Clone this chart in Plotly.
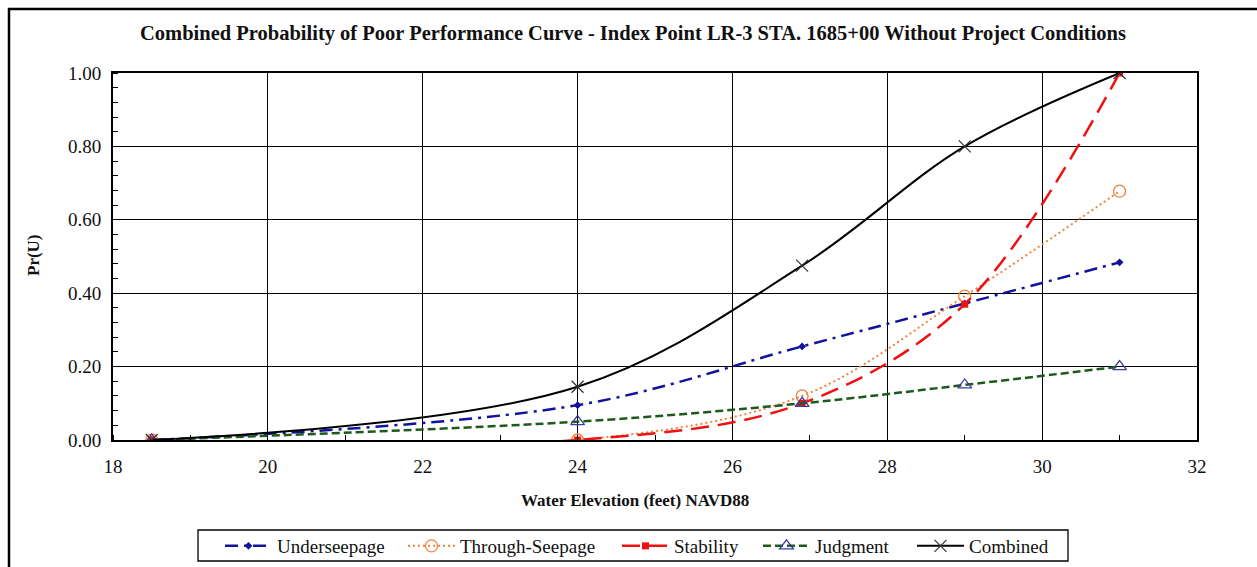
import plotly.graph_objects as go

elev = [18.5, 24.0, 26.9, 29.0, 31.0]
underseepage = [0.0, 0.095, 0.255, 0.372, 0.484]
through_seepage = [0.0, 0.0, 0.12, 0.392, 0.678]
stability = [0.0, 0.0, 0.10, 0.37, 1.0]
judgment = [0.0, 0.05, 0.10, 0.15, 0.20]
combined = [0.0, 0.145, 0.475, 0.80, 1.0]

x_ticks = [18, 20, 22, 24, 26, 28, 30, 32]
y_ticks = [0.0, 0.2, 0.4, 0.6, 0.8, 1.0]

FONT = "Liberation Serif"
PL, PR, PT, PB = 113, 1197, 73, 440
PW, PH = PR - PL, PB - PT

def px(xp):
    return (xp - PL) / PW

def py(yp):
    return (PB - yp) / PH

fig = go.Figure()

def add(name, y, color, dash, width, symbol, msize, lw, mcolor=None, mline=None):
    mcolor = mcolor or color
    fig.add_trace(go.Scatter(
        x=elev, y=y, name=name, mode="lines+markers", legendwidth=lw,
        line=dict(color=color, dash=dash, width=width, shape="spline", smoothing=1.0),
        marker=dict(symbol=symbol, size=msize, color=mcolor,
                    line=dict(color=mcolor, width=mline if mline is not None else 0)),
    ))

add("Underseepage", underseepage, "#12129C", "13px,6px,3px,6px", 2.5, "diamond", 6, 121)
add("Through-Seepage", through_seepage, "#F0843C", "2px,3px", 2, "circle-open", 12, 152, mline=1.3)
add("Stability", stability, "#F01010", "18px,9px", 2.5, "square", 7, 79)
add("Judgment", judgment, "#1E5A1E", "8px,4px", 2.5, "triangle-up-open", 12, 92,
    mcolor="#3A3AA8", mline=1.3)
add("Combined", combined, "#000000", "solid", 2, "x-thin-open", 12, 81, mcolor="#333333", mline=1.2)

fig.update_layout(
    width=1257, height=567,
    margin=dict(l=PL, r=1257 - PR, t=PT, b=567 - PB, autoexpand=False),
    paper_bgcolor="white", plot_bgcolor="white",
    font=dict(family=FONT, color="#111111", size=18),
    title=dict(text="<b>Combined Probability of Poor Performance Curve - Index Point LR-3 STA. 1685+00 Without Project Conditions</b>",
               x=633 / 1257, xanchor="center", y=1 - 33 / 567, yanchor="middle",
               font=dict(family=FONT, size=20.5, color="#111111")),
    showlegend=True,
    legend=dict(orientation="h", x=px(220), xanchor="left",
                y=py(546), yanchor="middle",
                borderwidth=0, bgcolor="rgba(0,0,0,0)",
                font=dict(family=FONT, size=19, color="#111111"),
                itemwidth=47, tracegroupgap=0),
    shapes=[
        dict(type="rect", xref="paper", yref="paper",
             x0=px(9), x1=px(1400), y0=py(700), y1=py(9),
             line=dict(color="black", width=2.5), fillcolor="rgba(0,0,0,0)", layer="below"),
        dict(type="rect", xref="paper", yref="paper",
             x0=px(198), x1=px(1068), y0=py(561), y1=py(530),
             line=dict(color="black", width=1.3), fillcolor="rgba(0,0,0,0)", layer="below"),
    ],
    annotations=[
        dict(text="<b>Water Elevation (feet) NAVD88</b>", xref="paper", yref="paper",
             x=px(635), y=py(500), xanchor="center", yanchor="middle", showarrow=False,
             font=dict(family=FONT, size=17, color="#111111")),
        dict(text="<b>Pr(U)</b>", xref="paper", yref="paper", textangle=-90,
             x=px(33), y=py(255), xanchor="center", yanchor="middle", showarrow=False,
             font=dict(family=FONT, size=17, color="#111111")),
    ],
)

fig.update_xaxes(
    range=[18, 32], tickvals=x_ticks, ticktext=[str(v) for v in x_ticks],
    showgrid=True, gridcolor="black", gridwidth=1, automargin=False,
    showline=True, linecolor="black", linewidth=2, mirror=True,
    ticks="", zeroline=False, ticklabelstandoff=8,
    minor=dict(dtick=1, tick0=18, ticks="inside", ticklen=5, tickcolor="black", tickwidth=1, showgrid=False),
    tickfont=dict(family=FONT, size=19, color="#111111"),
)
fig.update_yaxes(
    range=[0, 1.0], tickvals=y_ticks, ticktext=[f"{v:.2f}" for v in y_ticks],
    showgrid=True, gridcolor="black", gridwidth=1, automargin=False,
    showline=True, linecolor="black", linewidth=2, mirror=True,
    ticks="", zeroline=False, ticklabelstandoff=6,
    minor=dict(dtick=0.04, tick0=0, ticks="inside", ticklen=5, tickcolor="black", tickwidth=1, showgrid=False),
    tickfont=dict(family=FONT, size=19, color="#111111"),
)

fig.write_html("out.html")
